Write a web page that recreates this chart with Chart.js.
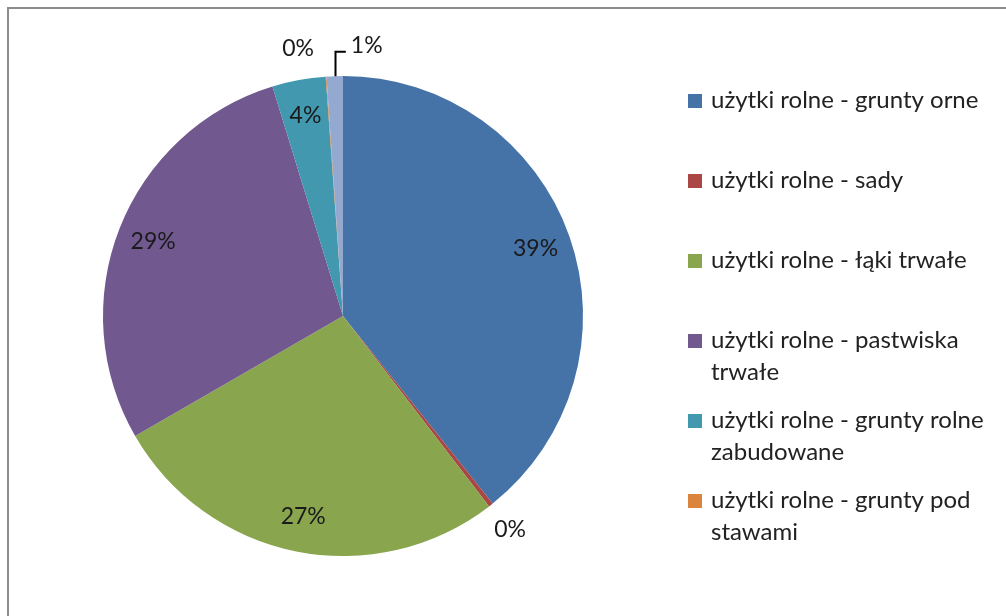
<!DOCTYPE html>
<html>
<head>
<meta charset="utf-8">
<script src="https://cdn.jsdelivr.net/npm/chart.js@4/dist/chart.umd.min.js"></script>
<style>
  html, body { margin: 0; padding: 0; background: #fff; }
  #wrap { position: relative; width: 1006px; height: 616px; }
</style>
</head>
<body>
<div id="wrap"><canvas id="pie" width="1006" height="616"></canvas></div>
<script>
// --- dane ---
const categories = [
  'użytki rolne - grunty orne',
  'użytki rolne - sady',
  'użytki rolne - łąki trwałe',
  'użytki rolne - pastwiska trwałe',
  'użytki rolne - grunty rolne zabudowane',
  'użytki rolne - grunty pod stawami',
  'pozostałe'
];
const legendLines = [
  ['użytki rolne - grunty orne'],
  ['użytki rolne - sady'],
  ['użytki rolne - łąki trwałe'],
  ['użytki rolne - pastwiska', 'trwałe'],
  ['użytki rolne - grunty rolne', 'zabudowane'],
  ['użytki rolne - grunty pod', 'stawami']
];
const shares = [39.3, 0.3, 27.1, 28.6, 3.6, 0.05, 1.1];
const colors = ['#4572A7', '#AA4643', '#89A54E', '#71588F', '#4198AF', '#DB843D', '#93A9CF'];

const FONT = 'Lato, "Open Sans", sans-serif';

// ramka wokół wykresu
const framePlugin = {
  id: 'frame',
  beforeDraw(chart) {
    const ctx = chart.ctx;
    ctx.save();
    ctx.strokeStyle = '#8c8c8c';
    ctx.lineWidth = 2;
    ctx.beginPath();
    ctx.moveTo(8, chart.height + 5);
    ctx.lineTo(8, 8);
    ctx.lineTo(chart.width + 5, 8);
    ctx.stroke();
    ctx.restore();
  }
};

// etykiety procentowe
const nudge = [0, 0, 0, 0, 0, -5.5, 7]; // stopnie, dla małych wycinków
const labelPlugin = {
  id: 'pctLabels',
  afterDatasetsDraw(chart) {
    const ctx = chart.ctx;
    const meta = chart.getDatasetMeta(0);
    const total = shares.reduce((a, b) => a + b, 0);
    ctx.save();
    ctx.font = '23px ' + FONT;
    ctx.fillStyle = '#1a1a1a';
    ctx.textAlign = 'center';
    ctx.textBaseline = 'middle';
    meta.data.forEach((arc, i) => {
      const p = shares[i] / total * 100;
      const txt = Math.round(p) + '%';
      const mid = (arc.startAngle + arc.endAngle) / 2;
      const r = arc.outerRadius;
      if (p >= 2) {
        ctx.fillText(txt, arc.x + Math.cos(mid) * r * 0.85, arc.y + Math.sin(mid) * r * 0.85);
      } else {
        const a = mid + nudge[i] * Math.PI / 180;
        const lx = arc.x + Math.cos(a) * r * 1.13;
        const ly = arc.y + Math.sin(a) * r * 1.13;
        ctx.fillText(txt, lx, ly);
        if (i === 6) {
          // linia odniesienia
          const w = ctx.measureText(txt).width;
          const sx = Math.round(arc.x + Math.cos(mid) * r) + 0.5;
          const sy = arc.y + Math.sin(mid) * r;
          ctx.strokeStyle = '#000';
          ctx.lineWidth = 2;
          ctx.beginPath();
          ctx.moveTo(sx, sy);
          ctx.lineTo(sx, ly + 6);
          ctx.lineTo(lx - w / 2 - 5, ly + 6);
          ctx.stroke();
        }
      }
    });
    ctx.restore();
  }
};

// legenda po prawej
const legendPlugin = {
  id: 'sideLegend',
  afterDraw(chart) {
    const ctx = chart.ctx;
    const x0 = 688, y0 = 100, step = 80, lineH = 32;
    ctx.save();
    ctx.font = '24px ' + FONT;
    ctx.textBaseline = 'middle';
    legendLines.forEach((lines, i) => {
      const y = y0 + i * step;
      ctx.fillStyle = colors[i];
      ctx.fillRect(x0, y - 6, 14, 14);
      ctx.fillStyle = '#222';
      lines.forEach((t, k) => ctx.fillText(t, x0 + 23, y + k * lineH));
    });
    ctx.restore();
  }
};

new Chart(document.getElementById('pie'), {
  type: 'pie',
  data: {
    labels: categories,
    datasets: [{ data: shares, backgroundColor: colors, borderWidth: 0 }]
  },
  options: {
    responsive: false,
    animation: false,
    layout: { padding: { left: 103, right: 423, top: 76, bottom: 60 } },
    plugins: { legend: { display: false }, tooltip: { enabled: false } }
  },
  plugins: [framePlugin, labelPlugin, legendPlugin]
});
</script>
</body>
</html>
